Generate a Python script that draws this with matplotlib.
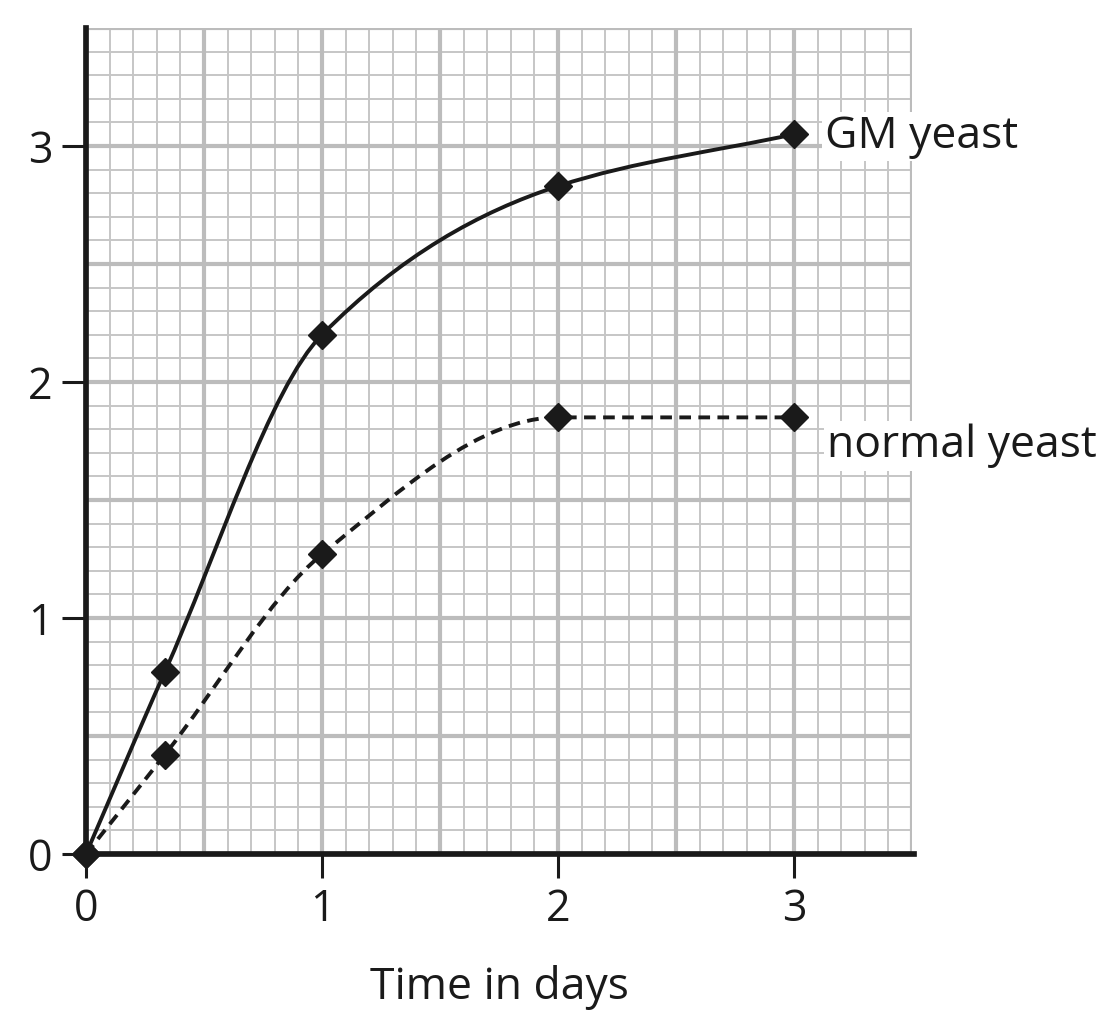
import numpy as np
import matplotlib
matplotlib.use("Agg")
import matplotlib.pyplot as plt
from matplotlib.path import Path
from matplotlib.patches import PathPatch

# data
days = [0, 1 / 3, 1, 2, 3]
gm_yeast = [0, 0.77, 2.2, 2.83, 3.05]
normal_yeast = [0, 0.42, 1.27, 1.85, 1.85]
ticks = [0, 1, 2, 3]

plt.rcParams['font.family'] = ['Open Sans', 'DejaVu Sans']


def pchip_slopes(x, y):
    x = np.asarray(x, float)
    y = np.asarray(y, float)
    h = np.diff(x)
    delta = np.diff(y) / h
    d = np.zeros_like(y)
    for k in range(1, len(x) - 1):
        if delta[k - 1] * delta[k] <= 0:
            d[k] = 0
        else:
            w1 = 2 * h[k] + h[k - 1]
            w2 = h[k] + 2 * h[k - 1]
            d[k] = (w1 + w2) / (w1 / delta[k - 1] + w2 / delta[k])
    d[0] = delta[0]
    d[-1] = delta[-1]
    return d


def smooth_path(x, y):
    # cubic hermite through the points, drawn as bezier segments
    d = pchip_slopes(x, y)
    verts = [(x[0], y[0])]
    codes = [Path.MOVETO]
    for k in range(len(x) - 1):
        h = x[k + 1] - x[k]
        verts += [(x[k] + h / 3, y[k] + d[k] * h / 3),
                  (x[k + 1] - h / 3, y[k + 1] - d[k + 1] * h / 3),
                  (x[k + 1], y[k + 1])]
        codes += [Path.CURVE4] * 3
    return Path(verts, codes)


fig = plt.figure(figsize=(11.17, 10.33), dpi=100)
ax = fig.add_axes([0.077, 0.1733, 0.7395, 0.7996])

# graph paper grid
minor = np.arange(0, 3.51, 0.1)
major = np.arange(0, 3.51, 0.5)
for v in minor:
    ax.axvline(v, color='#c6c6c6', lw=1.4, zorder=0)
    ax.axhline(v, color='#c6c6c6', lw=1.4, zorder=0)
for v in major:
    ax.axvline(v, color='#bcbcbc', lw=3.0, zorder=0.5)
    ax.axhline(v, color='#bcbcbc', lw=3.0, zorder=0.5)

ax.add_patch(PathPatch(smooth_path(days, gm_yeast), fill=False, color='#1a1a1a', lw=2.8, zorder=3))
ax.add_patch(PathPatch(smooth_path(days, normal_yeast), fill=False, color='#1a1a1a', lw=2.8,
                       linestyle=(0, (3.0, 1.9)), zorder=3))
ax.plot(days, gm_yeast, 'D', color='#1a1a1a', ms=14.5, lw=0, zorder=4, clip_on=False)
ax.plot(days, normal_yeast, 'D', color='#1a1a1a', ms=14.5, lw=0, zorder=4, clip_on=False)

box = dict(facecolor='white', edgecolor='none', pad=2)
ax.text(3.13, 3.04, 'GM yeast', fontsize=32, va='center', ha='left', color='#1a1a1a',
        bbox=box, zorder=5, clip_on=False)
ax.text(3.14, 1.73, 'normal yeast', fontsize=32, va='center', ha='left', color='#1a1a1a',
        bbox=box, zorder=5, clip_on=False)

ax.set_xlim(0, 3.5)
ax.set_ylim(0, 3.5)
ax.set_xticks(ticks)
ax.set_yticks(ticks)
ax.tick_params(direction='out', length=17, width=2.2, labelsize=31, pad=7, colors='#1a1a1a')
ax.set_xlabel('Time in days', fontsize=32, labelpad=24, color='#1a1a1a')

for s in ['top', 'right']:
    ax.spines[s].set_visible(False)
for s in ['left', 'bottom']:
    ax.spines[s].set_linewidth(4.1)
    ax.spines[s].set_color('#1a1a1a')
    ax.spines[s].set_zorder(6)
ax.spines['bottom'].set_bounds(0, 3.51)

fig.savefig('out.png', dpi=100)
